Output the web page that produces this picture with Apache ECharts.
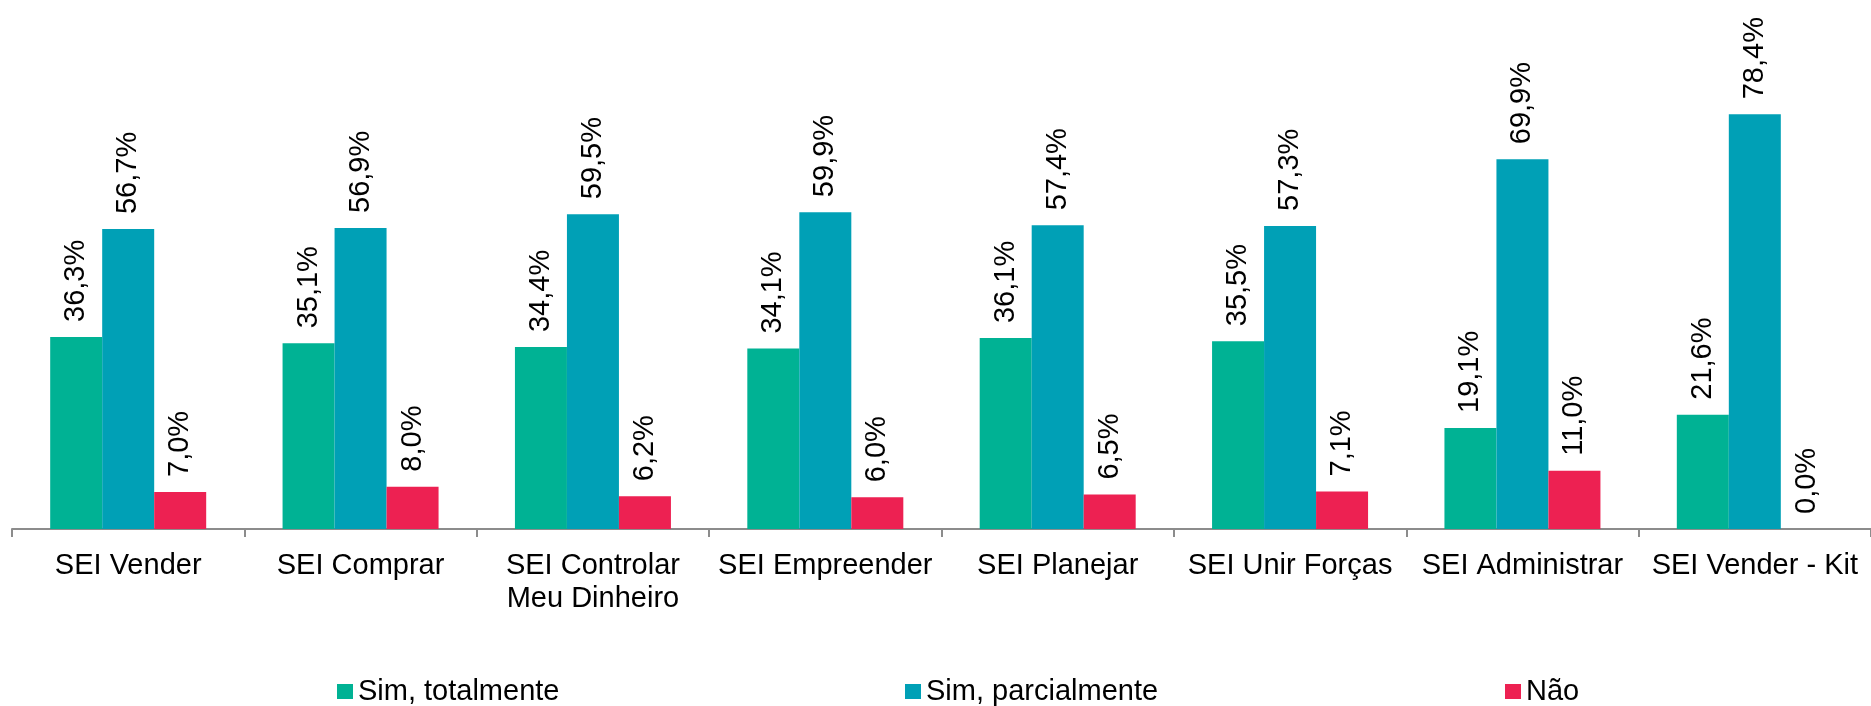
<!DOCTYPE html>
<html>
<head>
<meta charset="utf-8">
<script src="https://cdn.jsdelivr.net/npm/echarts@6/dist/echarts.min.js"></script>
<style>
  html, body { margin: 0; padding: 0; background: #ffffff; }
  #chart { width: 1871px; height: 706px; }
</style>
</head>
<body>
<div id="chart"></div>
<script>
const categories = [
  'SEI Vender',
  'SEI Comprar',
  'SEI Controlar\nMeu Dinheiro',
  'SEI Empreender',
  'SEI Planejar',
  'SEI Unir Forças',
  'SEI Administrar',
  'SEI Vender - Kit'
];
const seriesNames = ['Sim, totalmente', 'Sim, parcialmente', 'Não'];
const simTotalmente = [36.3, 35.1, 34.4, 34.1, 36.1, 35.5, 19.1, 21.6];
const simParcialmente = [56.7, 56.9, 59.5, 59.9, 57.4, 57.3, 69.9, 78.4];
const nao = [7.0, 8.0, 6.2, 6.0, 6.5, 7.1, 11.0, 0.0];

const colors = ['#00B294', '#00A0B6', '#ED2152'];
const FONT = '"Liberation Sans", Arial, sans-serif';

const chart = echarts.init(document.getElementById('chart'), null, { renderer: 'canvas' });

function fmt(p) {
  return p.value.toFixed(1).replace('.', ',') + '%';
}

function makeSeries(name, data, color) {
  return {
    name: name,
    type: 'bar',
    data: data,
    barWidth: 52,
    barGap: '0%',
    itemStyle: { color: color },
    label: {
      show: true,
      position: 'top',
      rotate: 90,
      align: 'left',
      verticalAlign: 'middle',
      distance: 15,
      formatter: fmt,
      color: '#000000',
      fontSize: 29,
      fontFamily: FONT
    },
    emphasis: { disabled: true },
    animation: false
  };
}

const legendBase = {
  orient: 'horizontal',
  padding: 0,
  top: 677,
  icon: 'rect',
  itemWidth: 16,
  itemHeight: 15,
  selectedMode: false,
  textStyle: { fontSize: 29, color: '#000000', fontFamily: FONT }
};

chart.setOption({
  backgroundColor: '#ffffff',
  animation: false,
  textStyle: { fontFamily: FONT },
  grid: { left: 12, right: -7, top: -4, bottom: 177, containLabel: false },
  legend: [
    Object.assign({}, legendBase, { left: 337, data: [seriesNames[0]] }),
    Object.assign({}, legendBase, { left: 905, data: [seriesNames[1]] }),
    Object.assign({}, legendBase, { left: 1505, data: [seriesNames[2]] })
  ],
  xAxis: {
    type: 'category',
    data: categories,
    axisLine: { show: true, lineStyle: { color: '#8C8C8C', width: 2 } },
    axisTick: { show: true, alignWithLabel: false, length: 8, lineStyle: { color: '#8C8C8C', width: 2 } },
    axisLabel: {
      interval: 0,
      margin: 20,
      fontSize: 29,
      lineHeight: 33,
      color: '#000000',
      fontFamily: FONT
    }
  },
  yAxis: {
    type: 'value',
    min: 0,
    max: 100,
    show: false,
    splitLine: { show: false }
  },
  series: [
    makeSeries(seriesNames[0], simTotalmente, colors[0]),
    makeSeries(seriesNames[1], simParcialmente, colors[1]),
    makeSeries(seriesNames[2], nao, colors[2])
  ]
});
</script>
</body>
</html>
